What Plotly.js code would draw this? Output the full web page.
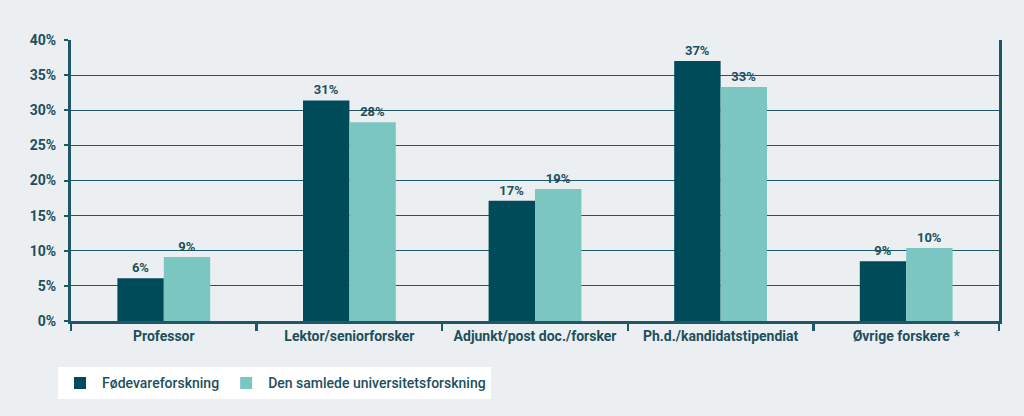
<!DOCTYPE html>
<html>
<head>
<meta charset="utf-8">
<script src="https://cdn.plot.ly/plotly-3.0.1.min.js"></script>
<style>
  html, body { margin: 0; padding: 0; background: #ebeff2; }
  #plotly_graph { width: 1024px; height: 416px; }
</style>
</head>
<body>
<div id="plotly_graph"></div>
<script>
// DATA
const CATEGORIES = ['Professor', 'Lektor/seniorforsker', 'Adjunkt/post doc./forsker', 'Ph.d./kandidatstipendiat', 'Øvrige forskere *']
const FOEDEVARE = [6.1, 31.4, 17.1, 37.0, 8.5]
const UNIVERSITET = [9.1, 28.3, 18.8, 33.3, 10.4]
const Y_TICKS = [0, 5, 10, 15, 20, 25, 30, 35, 40]

const DARK = '#004b5a'
const LIGHT = '#7cc6c2'
const TEXT = '#1e4f5c'
const LINE = '#1e5866'
const FONT = 'Roboto, "DejaVu Sans", sans-serif'

let graphDiv = document.getElementById('plotly_graph')

const labelFont = { family: FONT, size: 13, color: TEXT, weight: 700 }

let trace1 = {
    name: 'Fødevareforskning',
    type: 'bar',
    x: CATEGORIES,
    y: FOEDEVARE,
    marker: { color: DARK },
    texttemplate: '%{y:.0f}%',
    textposition: 'outside',
    constraintext: 'none',
    cliponaxis: false,
    textfont: labelFont,
    hoverinfo: 'skip'
}

let trace2 = {
    name: 'Den samlede universitetsforskning',
    type: 'bar',
    x: CATEGORIES,
    y: UNIVERSITET,
    marker: { color: LIGHT },
    texttemplate: '%{y:.0f}%',
    textposition: 'outside',
    constraintext: 'none',
    cliponaxis: false,
    textfont: labelFont,
    hoverinfo: 'skip'
}

let layout = {
    width: 1024,
    height: 416,
    margin: { t: 40, r: 25, b: 95, l: 71 },
    paper_bgcolor: '#ebeff2',
    plot_bgcolor: '#ebeff2',
    font: { family: FONT, size: 14, color: TEXT, weight: 700 },
    barmode: 'group',
    bargap: 0.5,
    bargroupgap: 0,
    showlegend: true,
    legend: {
        orientation: 'h',
        x: -0.014,
        xanchor: 'left',
        y: -0.165,
        yanchor: 'top',
        bgcolor: '#ffffff',
        font: { family: FONT, size: 14, color: TEXT, weight: 500 },
        itemwidth: 34,
        traceorder: 'normal'
    },
    xaxis: {
        showline: true,
        linecolor: LINE,
        linewidth: 3,
        ticks: 'outside',
        tickson: 'boundaries',
        ticklen: 7,
        tickwidth: 2.5,
        tickcolor: LINE,
        tickfont: { family: FONT, size: 14, color: TEXT, weight: 700 },
        fixedrange: true
    },
    yaxis: {
        range: [0, 40],
        tickvals: Y_TICKS,
        ticktext: Y_TICKS.map(v => v + '%'),
        showline: true,
        mirror: true,
        linecolor: LINE,
        linewidth: 3,
        ticks: 'outside',
        ticklen: 4,
        tickwidth: 2,
        tickcolor: LINE,
        ticklabelstandoff: 5,
        gridcolor: LINE,
        gridwidth: 1.2,
        zeroline: false,
        tickfont: { family: FONT, size: 14, color: TEXT, weight: 700 },
        fixedrange: true
    }
}

const config = { displaylogo: false, displayModeBar: false, staticPlot: true }

Plotly.newPlot(graphDiv, [trace1, trace2], layout, config)
</script>
</body>
</html>
